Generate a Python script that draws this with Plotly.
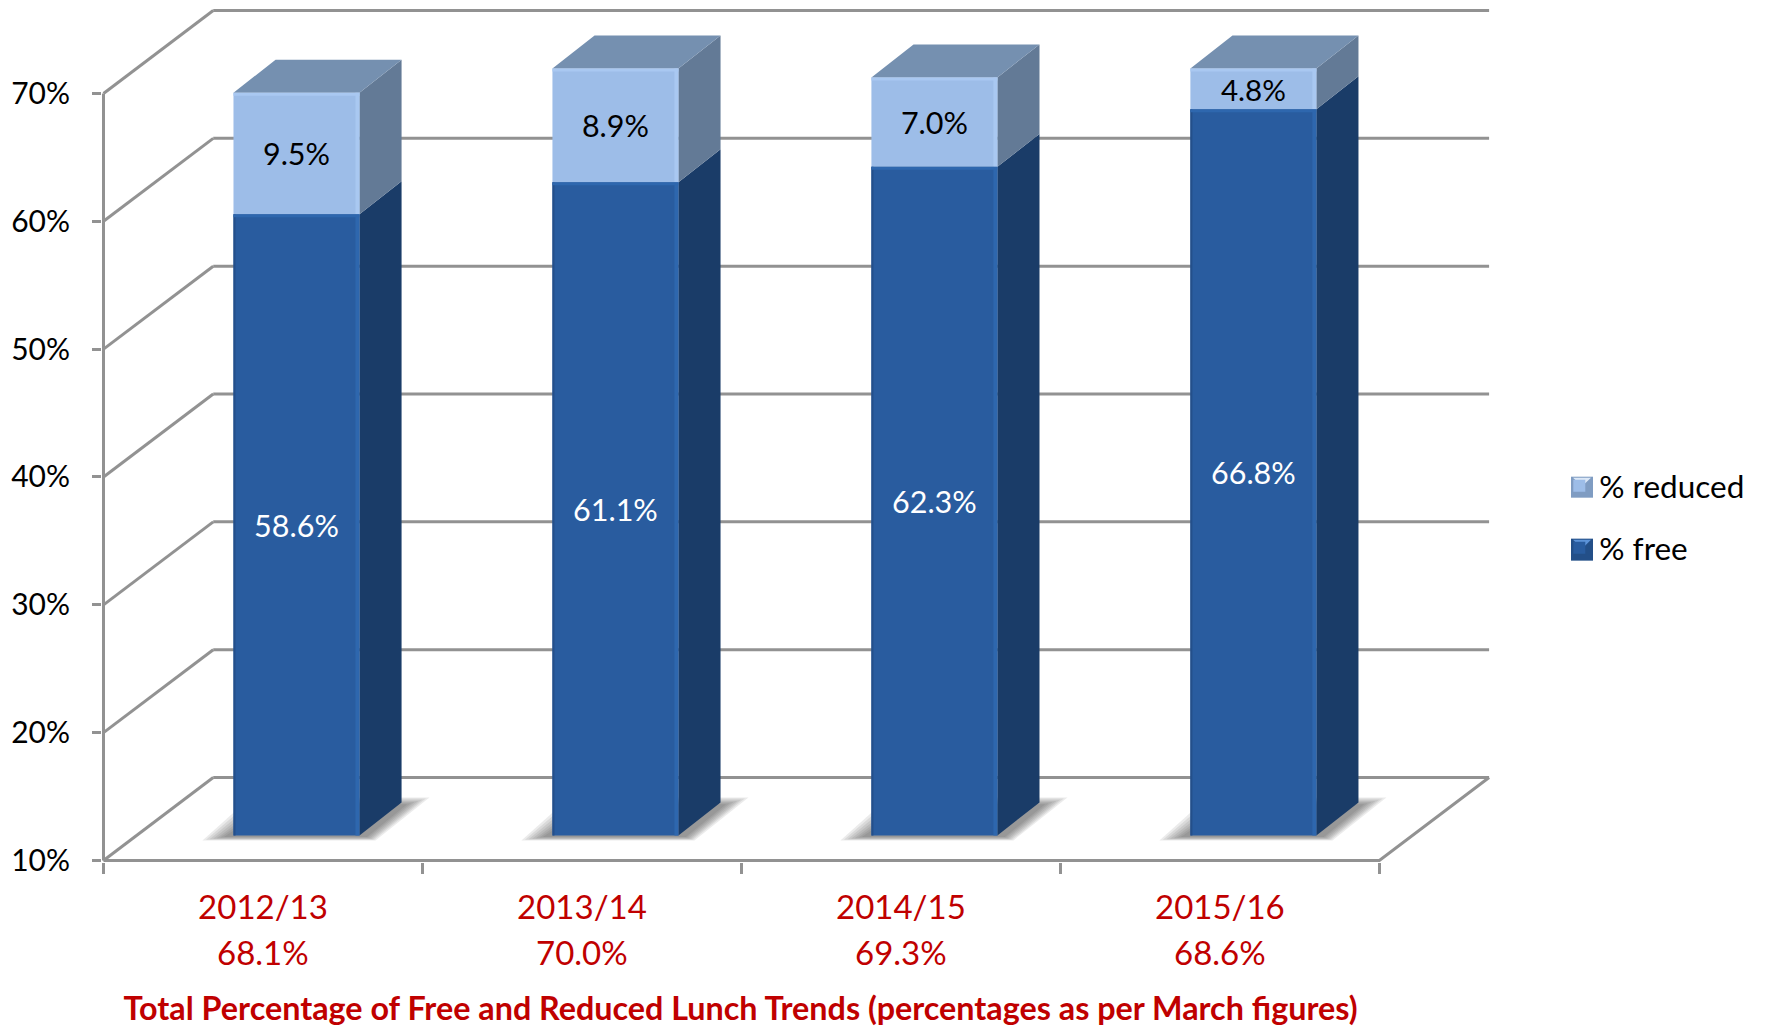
import plotly.graph_objects as go

# ---- data ----
years = ["2012/13", "2013/14", "2014/15", "2015/16"]
totals = ["68.1%", "70.0%", "69.3%", "68.6%"]
free = [58.6, 61.1, 62.3, 66.8]
reduced = [9.5, 8.9, 7.0, 4.8]
y_ticks = [10, 20, 30, 40, 50, 60, 70]
y_labels = ["10%", "20%", "30%", "40%", "50%", "60%", "70%"]

# ---- 3-D look, in axis units ----
AXIS_MIN, AXIS_MAX = 10, 70
WALL_X, WALL_Y = 0.344, 6.49      # depth of the floor / side wall
FRONT_X, FRONT_Y = 0.105, 1.96    # where the front of a bar stands on the floor
SIDE_X, SIDE_Y = 0.132, 2.58      # depth of a bar
BAR_W = 0.395
X_LO, X_HI = -0.5, 3.5
Y_TOP = 77.0
PXX, PXY = 318.9, 12.79
EDGE = 1.5                        # room kept around the axis lines, pixels
R_LO, R_HI = X_LO - EDGE / PXX, X_HI + 0.35
S_LO = AXIS_MIN - EDGE / PXY
BASE_PX = 861                     # pixel row of the axis floor
LEFT_PX = 103.5                   # pixel column of the left axis

GRID = "#929292"
DARK, DARK_SIDE = "#295c9f", "#1a3c68"
LIGHT, LIGHT_SIDE = "#9dbde8", "#637a96"
TOP = "#7590b0"
RED = "#c00000"
FONT = "Lato"

xs = list(range(len(years)))
xc = [x + FRONT_X for x in xs]
tops = [min(f + r, AXIS_MAX) for f, r in zip(free, reduced)]

fig = go.Figure()
fig.add_trace(go.Bar(
    x=xc, y=[t - f for t, f in zip(tops, free)], base=[f + FRONT_Y for f in free], width=BAR_W, name="% reduced",
    marker=dict(color=LIGHT, line=dict(width=0)), legendgroup="a",
    text=[f"{v:.1f}%" for v in reduced], textposition="inside", insidetextanchor="middle", textangle=0,
    textfont=dict(color="black", size=30.5, family=FONT), hoverinfo="skip"))
fig.add_trace(go.Bar(
    x=xc, y=[f - AXIS_MIN for f in free], base=[AXIS_MIN + FRONT_Y] * 4, width=BAR_W, name="% free",
    marker=dict(color=DARK, line=dict(width=0)), legendgroup="b",
    text=[f"{v:.1f}%" for v in free], textposition="inside", insidetextanchor="middle", textangle=0,
    textfont=dict(color="white", size=30.5, family=FONT), hoverinfo="skip"))


def poly(color, faces):
    px, py = [], []
    for f in faces:
        px += [p[0] for p in f] + [f[0][0], None]
        py += [p[1] for p in f] + [f[0][1], None]
    fig.add_trace(go.Scatter(x=px, y=py, mode="lines", fill="toself", fillcolor=color, line=dict(width=0),
                             showlegend=False, hoverinfo="skip"))


def side(xr, lo, hi):
    return [(xr, lo + FRONT_Y), (xr + SIDE_X, lo + FRONT_Y + SIDE_Y), (xr + SIDE_X, hi + FRONT_Y + SIDE_Y), (xr, hi + FRONT_Y)]


def vstrip(x_a, x_b, lo, hi):
    return [(x_a, lo + FRONT_Y), (x_b, lo + FRONT_Y), (x_b, hi + FRONT_Y), (x_a, hi + FRONT_Y)]


poly(DARK_SIDE, [side(c + BAR_W / 2, AXIS_MIN, f) for c, f in zip(xc, free)])
poly(LIGHT_SIDE, [side(c + BAR_W / 2, f, t) for c, f, t in zip(xc, free, tops)])
poly(TOP, [[(c - BAR_W / 2, t + FRONT_Y), (c + BAR_W / 2, t + FRONT_Y),
            (c + BAR_W / 2 + SIDE_X, t + FRONT_Y + SIDE_Y), (c - BAR_W / 2 + SIDE_X, t + FRONT_Y + SIDE_Y)]
           for c, t in zip(xc, tops)])
# soft bevels on the bar fronts
poly("#2e67ae", [vstrip(c + BAR_W / 2 - 4 / PXX, c + BAR_W / 2, AXIS_MIN, f) for c, f in zip(xc, free)])
poly("#244f8a", [vstrip(c - BAR_W / 2, c - BAR_W / 2 + 2 / PXX, AXIS_MIN, f) for c, f in zip(xc, free)])
poly("#a9c8f1", [vstrip(c + BAR_W / 2 - 4 / PXX, c + BAR_W / 2, f, t) for c, f, t in zip(xc, free, tops)])
poly("#a9c8f1", [vstrip(c - BAR_W / 2, c + BAR_W / 2, t - 3 / PXY, t) for c, t in zip(xc, tops)])
poly("#2e67ae", [vstrip(c - BAR_W / 2, c + BAR_W / 2, f - 3 / PXY, f) for c, f in zip(xc, free)])

# left wall, floor edge, axis lines
wall_x, wall_y = [X_LO, X_LO, None, X_LO, X_HI, X_HI + WALL_X, None], [AXIS_MIN, AXIS_MAX, None, AXIS_MIN, AXIS_MIN, AXIS_MIN + WALL_Y, None]
for v in y_ticks:
    wall_x += [X_LO, X_LO + WALL_X, None]
    wall_y += [v, v + WALL_Y, None]
fig.add_trace(go.Scatter(x=wall_x, y=wall_y, mode="lines", line=dict(color=GRID, width=3), cliponaxis=False,
                         showlegend=False, hoverinfo="skip"))

shapes = []
# soft floor shadows
N = 7
for c in xc:
    x0 = c - BAR_W / 2
    x1 = c + BAR_W / 2
    for k in range(N):
        s = 1 - k / N
        ax = -(6 + 25 * s)
        a = (x0 + ax / PXX, AXIS_MIN + FRONT_Y - (1 + 4 * s) / PXY)
        b = (x1 + (6 + 10 * s) / PXX, a[1])
        cc = (x1 + (44 + 26 * s) / PXX, AXIS_MIN + FRONT_Y + (30 + 8 * s) / PXY)
        d = (x0 + (ax + 48) / PXX, cc[1])
        path = "M{},{} L{},{} L{},{} L{},{} Z".format(*a, *b, *cc, *d)
        shapes.append(dict(type="path", path=path, xref="x", yref="y", layer="below",
                           fillcolor="rgba(70,70,70,0.11)", line=dict(width=0)))
# back-wall gridlines, behind the bars
for v in y_ticks:
    shapes.append(dict(type="line", xref="x", yref="y", layer="below", x0=X_LO + WALL_X, x1=X_HI + WALL_X,
                       y0=v + WALL_Y, y1=v + WALL_Y, line=dict(color=GRID, width=3)))

PLOT_L = LEFT_PX - EDGE
PLOT_W = (R_HI - R_LO) * PXX
PLOT_B = BASE_PX + EDGE
PLOT_H = (Y_TOP - S_LO) * PXY


def pxp(px):
    return (px - PLOT_L) / PLOT_W


def pyp(py):
    return (PLOT_B - py) / PLOT_H


# legend swatch bevels under the legend's own keys
for (ya, yb, hi, lo) in [(477, 498, "#dce8f7", "#7f9cc2"), (539, 561, "#5c93d8", "#234f88")]:
    xa, xb = 1570.7, 1592.7
    shapes.append(dict(type="rect", xref="paper", yref="paper", x0=pxp(xa), x1=pxp(xb), y0=pyp(yb), y1=pyp(ya),
                       fillcolor=lo, line=dict(width=0)))
    shapes.append(dict(type="path", xref="paper", yref="paper",
                       path="M{},{} L{},{} L{},{} Z".format(pxp(xa + 2), pyp(ya + 1), pxp(xb - 2), pyp(ya + 1), pxp((xa + xb) / 2), pyp((ya + yb) / 2 - 1)),
                       fillcolor=hi, line=dict(width=0)))

annotations = [dict(x=x, y=pyp(953), xref="x", yref="paper", text=t, showarrow=False, yanchor="middle",
                    font=dict(family=FONT, size=33, color=RED)) for x, t in zip(xs, totals)]

fig.update_layout(
    width=1765, height=1027,
    margin=dict(l=PLOT_L, r=1765 - PLOT_L - PLOT_W, t=PLOT_B - PLOT_H, b=1027 - PLOT_B, pad=0, autoexpand=False),
    paper_bgcolor="white", plot_bgcolor="white", barmode="overlay", shapes=shapes, annotations=annotations,
    font=dict(family=FONT, color="black"),
    title=dict(text="<b>Total Percentage of Free and Reduced Lunch Trends (percentages as per March figures)</b>",
               xref="container", yref="container", x=740.6 / 1765, xanchor="center", y=1 - 1009 / 1027, yanchor="middle",
               font=dict(family=FONT, size=32.3, color=RED)),
    xaxis=dict(range=[R_LO, R_HI], tickvals=xs, ticktext=years,
               ticks="", showgrid=False, zeroline=False, showline=False, ticklabelstandoff=23,
               tickfont=dict(family=FONT, size=33, color=RED),
               minor=dict(ticks="outside", tickmode="array", tickvals=[-0.5, 0.5, 1.5, 2.5, 3.5], ticklen=11, tickwidth=3, tickcolor=GRID, showgrid=False)),
    yaxis=dict(range=[S_LO, Y_TOP], tickvals=y_ticks, ticktext=y_labels, ticks="outside", ticklen=9, tickwidth=3,
               tickcolor=GRID, showgrid=False, zeroline=False, showline=False, ticklabelstandoff=16,
               tickfont=dict(family=FONT, size=30, color="black")),
    legend=dict(x=pxp(1559), xanchor="left", y=pyp(459), yanchor="top", traceorder="grouped", tracegroupgap=18,
                font=dict(family=FONT, size=31.5, color="black"), bgcolor="rgba(0,0,0,0)", borderwidth=0),
)
fig.write_html("out.html", config=dict(displayModeBar=False), post_script="document.body.style.margin='0';")
